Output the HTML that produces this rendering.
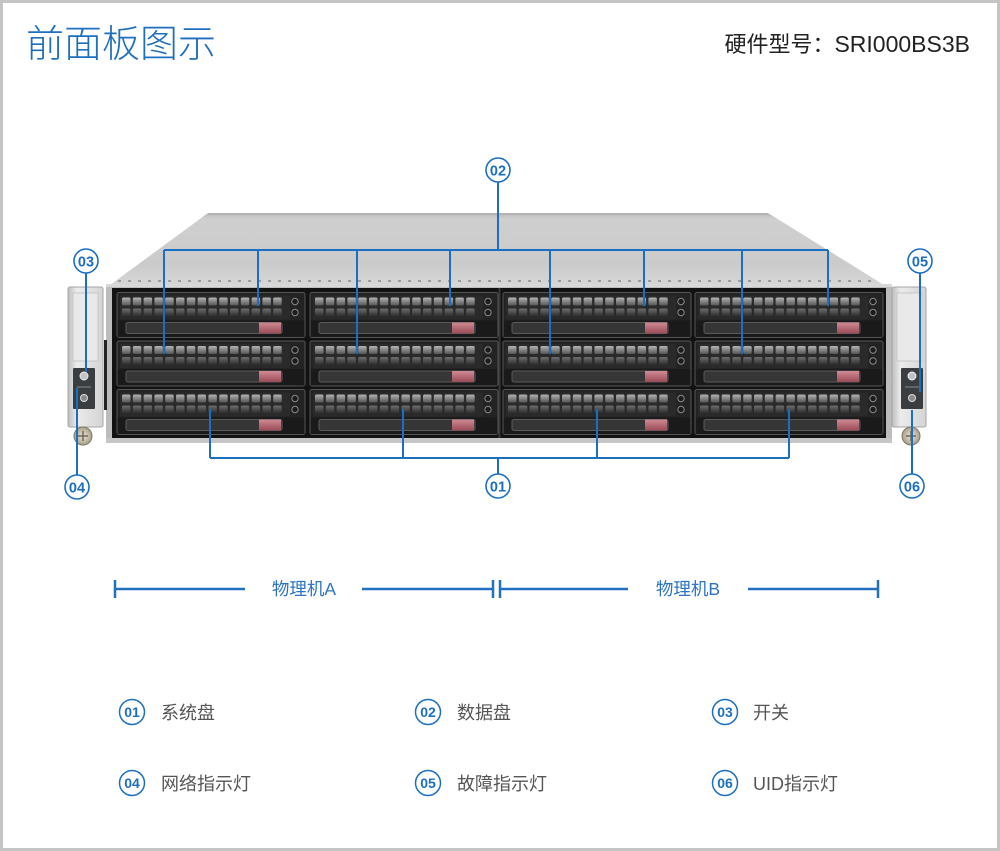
<!DOCTYPE html>
<html><head><meta charset="utf-8"><style>
html,body{margin:0;padding:0;background:#fff;}
svg{display:block;}
text{font-family:"Liberation Sans","Noto Sans CJK SC",sans-serif;}
</style></head><body>
<svg width="1000" height="851" viewBox="0 0 1000 851" xmlns="http://www.w3.org/2000/svg">
<defs>
 <linearGradient id="lid" x1="0" y1="0" x2="0" y2="1">
  <stop offset="0" stop-color="#b9b9b9"/><stop offset="0.08" stop-color="#cfcfcf"/><stop offset="0.7" stop-color="#cbcbcb"/><stop offset="1" stop-color="#d6d6d6"/>
 </linearGradient>
 <linearGradient id="h1" x1="0" y1="0" x2="0" y2="1"><stop offset="0" stop-color="#b4b4b4"/><stop offset="1" stop-color="#555"/></linearGradient>
 <linearGradient id="h2" x1="0" y1="0" x2="0" y2="1"><stop offset="0" stop-color="#6e6e6e"/><stop offset="1" stop-color="#2a2a2a"/></linearGradient>
 <linearGradient id="latch" x1="0" y1="0" x2="0" y2="1"><stop offset="0" stop-color="#d08a95"/><stop offset="1" stop-color="#9a4b58"/></linearGradient>
 <linearGradient id="ear" x1="0" y1="0" x2="1" y2="0"><stop offset="0" stop-color="#bdbdbd"/><stop offset="0.25" stop-color="#ececec"/><stop offset="1" stop-color="#d4d4d4"/></linearGradient>
 <radialGradient id="screw"><stop offset="0" stop-color="#efe9da"/><stop offset="1" stop-color="#a69e88"/></radialGradient>
 <g id="drive">
  <rect x="0" y="0" width="188" height="45" rx="2" fill="#232323" stroke="#555" stroke-width="1"/>
  <rect x="3" y="3" width="170" height="24" fill="#2a2a2a"/>
  <g fill="url(#h1)">
   <rect x="5" y="5" width="8.5" height="8" rx="1.5"/><rect x="15.8" y="5" width="8.5" height="8" rx="1.5"/><rect x="26.6" y="5" width="8.5" height="8" rx="1.5"/><rect x="37.4" y="5" width="8.5" height="8" rx="1.5"/><rect x="48.2" y="5" width="8.5" height="8" rx="1.5"/><rect x="59" y="5" width="8.5" height="8" rx="1.5"/><rect x="69.8" y="5" width="8.5" height="8" rx="1.5"/><rect x="80.6" y="5" width="8.5" height="8" rx="1.5"/><rect x="91.4" y="5" width="8.5" height="8" rx="1.5"/><rect x="102.2" y="5" width="8.5" height="8" rx="1.5"/><rect x="113" y="5" width="8.5" height="8" rx="1.5"/><rect x="123.8" y="5" width="8.5" height="8" rx="1.5"/><rect x="134.6" y="5" width="8.5" height="8" rx="1.5"/><rect x="145.4" y="5" width="8.5" height="8" rx="1.5"/><rect x="156.2" y="5" width="8.5" height="8" rx="1.5"/>
  </g>
  <g fill="url(#h2)">
   <rect x="5" y="16" width="8.5" height="8" rx="1.5"/><rect x="15.8" y="16" width="8.5" height="8" rx="1.5"/><rect x="26.6" y="16" width="8.5" height="8" rx="1.5"/><rect x="37.4" y="16" width="8.5" height="8" rx="1.5"/><rect x="48.2" y="16" width="8.5" height="8" rx="1.5"/><rect x="59" y="16" width="8.5" height="8" rx="1.5"/><rect x="69.8" y="16" width="8.5" height="8" rx="1.5"/><rect x="80.6" y="16" width="8.5" height="8" rx="1.5"/><rect x="91.4" y="16" width="8.5" height="8" rx="1.5"/><rect x="102.2" y="16" width="8.5" height="8" rx="1.5"/><rect x="113" y="16" width="8.5" height="8" rx="1.5"/><rect x="123.8" y="16" width="8.5" height="8" rx="1.5"/><rect x="134.6" y="16" width="8.5" height="8" rx="1.5"/><rect x="145.4" y="16" width="8.5" height="8" rx="1.5"/><rect x="156.2" y="16" width="8.5" height="8" rx="1.5"/>
  </g>
  <circle cx="178" cy="9" r="3.2" fill="#1c1c1c" stroke="#8a8a8a" stroke-width="1"/>
  <circle cx="178" cy="20" r="3.2" fill="#1c1c1c" stroke="#8a8a8a" stroke-width="1"/>
  <rect x="0.5" y="28" width="187" height="16.5" fill="#1a1a1a"/>
  <rect x="9" y="30" width="156" height="11" rx="2" fill="#363636" stroke="#5a5a5a" stroke-width="1"/>
  <rect x="142" y="30" width="22" height="11" fill="url(#latch)"/>
 </g>
</defs>

<!-- frame -->
<rect x="1.5" y="1.5" width="997" height="848" fill="#fff" stroke="#c4c4c4" stroke-width="3"/>

<!-- title -->
<text x="26" y="57" font-size="38" font-weight="300" fill="#1f6fbf">前面板图示</text>
<text x="970" y="52" text-anchor="end" font-size="22" fill="#222">硬件型号：<tspan font-size="23">SRI000BS3B</tspan></text>

<!-- chassis lid -->
<polygon points="208,213 768,213 884,285 110,285" fill="url(#lid)"/>
<line x1="208" y1="214" x2="768" y2="214" stroke="#b4b4b4" stroke-width="2"/>
<line x1="118" y1="281" x2="878" y2="281" stroke="#8a8a8a" stroke-width="1.5" stroke-dasharray="3 7"/>

<!-- front frame -->
<rect x="106" y="284" width="786" height="159" fill="#bcbcbc"/>
<rect x="112" y="288" width="774" height="151" fill="#121212"/>
<rect x="106" y="284" width="786" height="3" fill="#d8d8d8"/>
<rect x="106" y="438" width="786" height="5" fill="#c6c6c6"/>
<line x1="499.5" y1="288" x2="499.5" y2="438" stroke="#3a3a3a" stroke-width="2"/>
<rect x="104" y="340" width="3" height="70" fill="#222"/>

<!-- drives -->
<use href="#drive" x="117" y="292.5"/><use href="#drive" x="310" y="292.5"/><use href="#drive" x="503" y="292.5"/><use href="#drive" x="695" y="292.5"/>
<use href="#drive" x="117" y="341"/><use href="#drive" x="310" y="341"/><use href="#drive" x="503" y="341"/><use href="#drive" x="695" y="341"/>
<use href="#drive" x="117" y="389.5"/><use href="#drive" x="310" y="389.5"/><use href="#drive" x="503" y="389.5"/><use href="#drive" x="695" y="389.5"/>

<!-- left ear -->
<rect x="68" y="287" width="35" height="140" rx="2" fill="url(#ear)" stroke="#a5a5a5" stroke-width="1"/>
<rect x="73" y="293" width="25" height="68" fill="#e9e9e9" stroke="#c6c6c6" stroke-width="1"/>
<rect x="73" y="368" width="22" height="41" rx="1" fill="#3b3e41"/>
<circle cx="84" cy="376" r="4" fill="#c4c4c4" stroke="#eee" stroke-width="1"/>
<circle cx="84" cy="398" r="3.5" fill="#8a8a8a" stroke="#ddd" stroke-width="1"/>
<line x1="77" y1="387" x2="91" y2="387" stroke="#888" stroke-width="1"/>
<circle cx="83" cy="436" r="9" fill="url(#screw)" stroke="#7f7866" stroke-width="1"/>
<path d="M78 436 H88 M83 431 V441" stroke="#6e6756" stroke-width="1.5"/>

<!-- right ear -->
<rect x="892" y="287" width="34" height="140" rx="2" fill="url(#ear)" stroke="#a5a5a5" stroke-width="1"/>
<rect x="897" y="293" width="25" height="68" fill="#e9e9e9" stroke="#c6c6c6" stroke-width="1"/>
<rect x="901" y="368" width="22" height="41" rx="1" fill="#3b3e41"/>
<circle cx="912" cy="376" r="4" fill="#c4c4c4" stroke="#eee" stroke-width="1"/>
<circle cx="912" cy="398" r="3.5" fill="#8a8a8a" stroke="#ddd" stroke-width="1"/>
<line x1="905" y1="387" x2="919" y2="387" stroke="#888" stroke-width="1"/>
<circle cx="911" cy="436" r="9" fill="url(#screw)" stroke="#7f7866" stroke-width="1"/>
<path d="M906 436 H916 M911 431 V441" stroke="#6e6756" stroke-width="1.5"/>

<!-- callout lines -->
<g stroke="#1b6fc2" stroke-width="2" fill="none">
 <path d="M498 182 V250 M164 250 H828"/>
 <path d="M164 250 V354 M258 250 V306 M357 250 V354 M450 250 V306 M550 250 V354 M644 250 V306 M742 250 V354 M828 250 V306"/>
 <path d="M210 409 V458 M403 409 V458 M597 409 V458 M789 409 V458 M210 458 H789 M498 458 V474"/>
 <path d="M86 273 V372"/>
 <path d="M77 388 V475"/>
 <path d="M920 273 V392"/>
 <path d="M912 410 V474"/>
</g>

<!-- callout circles -->
<g font-size="14.5" font-weight="bold" fill="#1b6fc2" text-anchor="middle">
 <circle cx="498" cy="170" r="12" fill="#fff" stroke="#1b6fc2" stroke-width="1.6"/><text x="498" y="175.5">02</text>
 <circle cx="498" cy="486" r="12" fill="#fff" stroke="#1b6fc2" stroke-width="1.6"/><text x="498" y="491.5">01</text>
 <circle cx="86" cy="261" r="12" fill="#fff" stroke="#1b6fc2" stroke-width="1.6"/><text x="86" y="266.5">03</text>
 <circle cx="77" cy="487" r="12" fill="#fff" stroke="#1b6fc2" stroke-width="1.6"/><text x="77" y="492.5">04</text>
 <circle cx="920" cy="261" r="12" fill="#fff" stroke="#1b6fc2" stroke-width="1.6"/><text x="920" y="266.5">05</text>
 <circle cx="912" cy="486" r="12" fill="#fff" stroke="#1b6fc2" stroke-width="1.6"/><text x="912" y="491.5">06</text>
</g>

<!-- physical machine bar -->
<g stroke="#2370c0" stroke-width="2.5">
 <path d="M115 589 H245 M362 589 H493 M500 589 H628 M748 589 H878"/>
 <path d="M115 580 V598 M493 580 V598 M500 580 V598 M878 580 V598"/>
</g>
<text x="304" y="595" text-anchor="middle" font-size="17.5" fill="#2b74c1">物理机A</text>
<text x="688" y="595" text-anchor="middle" font-size="17.5" fill="#2b74c1">物理机B</text>

<!-- legend -->
<g font-size="14" font-weight="bold" fill="#1b6fc2" text-anchor="middle">
 <circle cx="132" cy="712" r="12.5" fill="#fff" stroke="#1b6fc2" stroke-width="1.5"/><text x="132" y="717">01</text>
 <circle cx="428" cy="712" r="12.5" fill="#fff" stroke="#1b6fc2" stroke-width="1.5"/><text x="428" y="717">02</text>
 <circle cx="725" cy="712" r="12.5" fill="#fff" stroke="#1b6fc2" stroke-width="1.5"/><text x="725" y="717">03</text>
 <circle cx="132" cy="783" r="12.5" fill="#fff" stroke="#1b6fc2" stroke-width="1.5"/><text x="132" y="788">04</text>
 <circle cx="428" cy="783" r="12.5" fill="#fff" stroke="#1b6fc2" stroke-width="1.5"/><text x="428" y="788">05</text>
 <circle cx="725" cy="783" r="12.5" fill="#fff" stroke="#1b6fc2" stroke-width="1.5"/><text x="725" y="788">06</text>
</g>
<g font-size="18" fill="#555">
 <text x="161" y="719">系统盘</text>
 <text x="457" y="719">数据盘</text>
 <text x="753" y="719">开关</text>
 <text x="161" y="790">网络指示灯</text>
 <text x="457" y="790">故障指示灯</text>
 <text x="753" y="790">UID指示灯</text>
</g>
</svg>
</body></html>
